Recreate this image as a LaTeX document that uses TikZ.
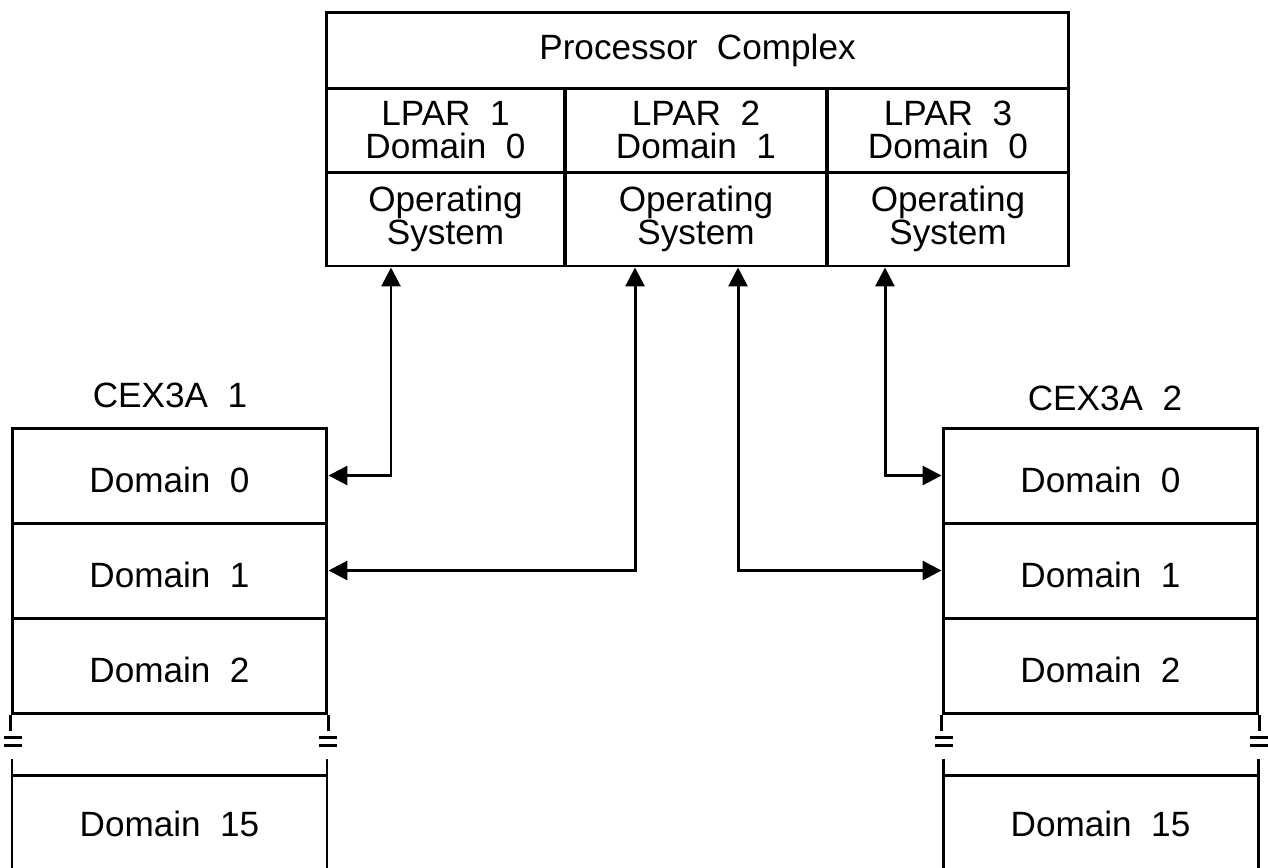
\documentclass[tikz,border=0pt]{standalone}
\usepackage{fontspec}
\setmainfont{Liberation Sans}
\usetikzlibrary{arrows.meta}

\begin{document}
\begin{tikzpicture}[x=0.02cm,y=-0.02cm,line width=1.7pt,
  cell/.style={draw, inner sep=0pt, align=center, font=\fontsize{20}{18}\selectfont},
  part/.style={cell, minimum height=1.68cm, font=\fontsize{20}{19.2}\selectfont},
  slot/.style={cell, minimum width=6.3cm, minimum height=1.9cm, text height=0.66cm, text depth=0cm},
  tag/.style={inner sep=0pt, align=center, font=\fontsize{20}{18}\selectfont},
  link/.style={{Triangle[length=0.38cm,width=0.38cm]}-{Triangle[length=0.38cm,width=0.38cm]}}]
\useasboundingbox (0,0) rectangle (1268,867);
\clip (0,0) rectangle (1268,867);
% processor complex
\node [cell, minimum width=14.86cm, minimum height=1.52cm] (pc) at (697.5,50) {Processor\ \ Complex};
\node [part, minimum width=4.78cm] (lpar1) at (445.5,130) {LPAR\ \ 1\\Domain\ \ 0};
\node [part, minimum width=5.24cm] (lpar2) at (696,130) {LPAR\ \ 2\\Domain\ \ 1};
\node [part, minimum width=4.84cm] (lpar3) at (948,130) {LPAR\ \ 3\\Domain\ \ 0};
\node [cell, minimum width=4.78cm, minimum height=1.88cm] (os1) at (445.5,219) {Operating\\System};
\node [cell, minimum width=5.24cm, minimum height=1.88cm] (os2) at (696,219) {Operating\\System};
\node [cell, minimum width=4.84cm, minimum height=1.88cm] (os3) at (948,219) {Operating\\System};
% crypto cards
\node [tag] (cexa) at (170,395) {CEX3A\ \ 1};
\node [tag] (cexb) at (1105,398) {CEX3A\ \ 2};
\foreach \x/\s in {169.5/la,1100.5/ra} {
  \node [slot] (\s0) at (\x,475.5) {Domain\ \ 0};
  \node [slot] (\s1) at (\x,570.5) {Domain\ \ 1};
  \node [slot] (\s2) at (\x,665.5) {Domain\ \ 2};
  \node [tag] (\s15) at (\x,824) {Domain\ \ 15};
  % break in the stack
  \draw (\s2.south west) -- ++(0,16);
  \draw (\s2.south east) -- ++(0,16);
  \draw (\x-157.5,880) -- (\x-157.5,759);
  \draw (\x+157.5,880) -- (\x+157.5,759);
  \draw (\x-157.5,775) -- (\x+157.5,775);
  \draw (\x-166,737) -- ++(18,0) (\x-166,745) -- ++(18,0);
  \draw (\x+149,737) -- ++(18,0) (\x+149,745) -- ++(18,0);
}
% connections
\coordinate (c1) at (391,0);
\coordinate (c2) at (635,0);
\coordinate (c3) at (738,0);
\coordinate (c4) at (885,0);
\draw [link] (la0.east) -| (os1.south -| c1);
\draw [link] (la1.east) -| (os2.south -| c2);
\draw [link] (ra1.west) -| (os2.south -| c3);
\draw [link] (ra0.west) -| (os3.south -| c4);
\end{tikzpicture}
\end{document}
